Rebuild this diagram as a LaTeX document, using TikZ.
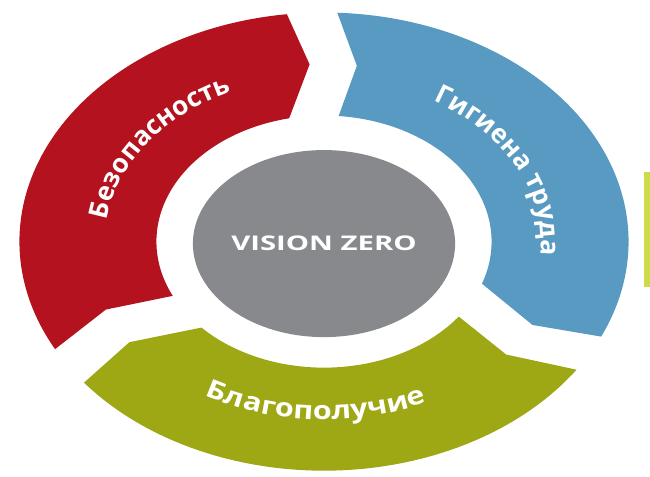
\documentclass[tikz,border=0pt]{standalone}
\usepackage{fontspec}
\setmainfont{Open Sans}
\newfontfamily\widefont{Open Sans}[FakeStretch=1.2]
\newfontfamily\hubfont{Open Sans}[FakeStretch=1.45]
\usetikzlibrary{decorations.text,shapes.geometric}

\definecolor{segred}{RGB}{179,18,30}
\definecolor{segblue}{RGB}{88,154,193}
\definecolor{seggreen}{RGB}{158,168,20}
\definecolor{hubgray}{RGB}{136,137,140}
\definecolor{limeedge}{RGB}{205,220,70}

\tikzset{
	hub/.style={ellipse, fill=hubgray, minimum width=4.96cm, minimum height=3.74cm, inner sep=0pt,
		text=white, font=\hubfont\bfseries\fontsize{11.5}{13}\selectfont},
	ringlabel/.style={decorate, decoration={text along path, text align=center, text color=white, text={#1}}}
}

\begin{document}
\begin{tikzpicture}[x=0.0266cm, y=0.02cm]
	\useasboundingbox (-243.6,-234.5) rectangle (245.1,241.5);
	% edge of the next slide
	\shade[top color=white, middle color=limeedge, bottom color=white]
		(240.8,100) rectangle (245.1,-64);
	\fill[limeedge] (240.8,70) rectangle (245.1,-45);
	% three arrows round the hub
	\foreach \col/\T/\H in {segred/208/97, segblue/87.5/-24.5, seggreen/-34/-142}
		\fill[\col] (\T:229) arc[start angle=\T, end angle=\H, radius=229]
			-- ({\H-3.5}:177.5) -- ({\H+5}:126)
			arc[start angle={\H+5}, end angle={\T-2.5}, radius=126]
			-- ({\T-5.5}:177.5) -- cycle;
	\node[hub] (hub) at (0,-2) {VISION ZERO};
	% labels on the arrows
	\path[ringlabel={|\bfseries\fontsize{15}{17}\selectfont|Безопасность}]
		(202:165) arc[start angle=202, end angle=92, radius=165];
	\path[ringlabel={|\bfseries\fontsize{15}{17}\selectfont|Гигиена труда}]
		(80:163) arc[start angle=80, end angle=-30, radius=163];
	\path[ringlabel={|\widefont\bfseries\fontsize{14.5}{16}\selectfont|Благополучие}]
		(-147.5:178) arc[start angle=-147.5, end angle=-37.5, radius=178];
\end{tikzpicture}
\end{document}
